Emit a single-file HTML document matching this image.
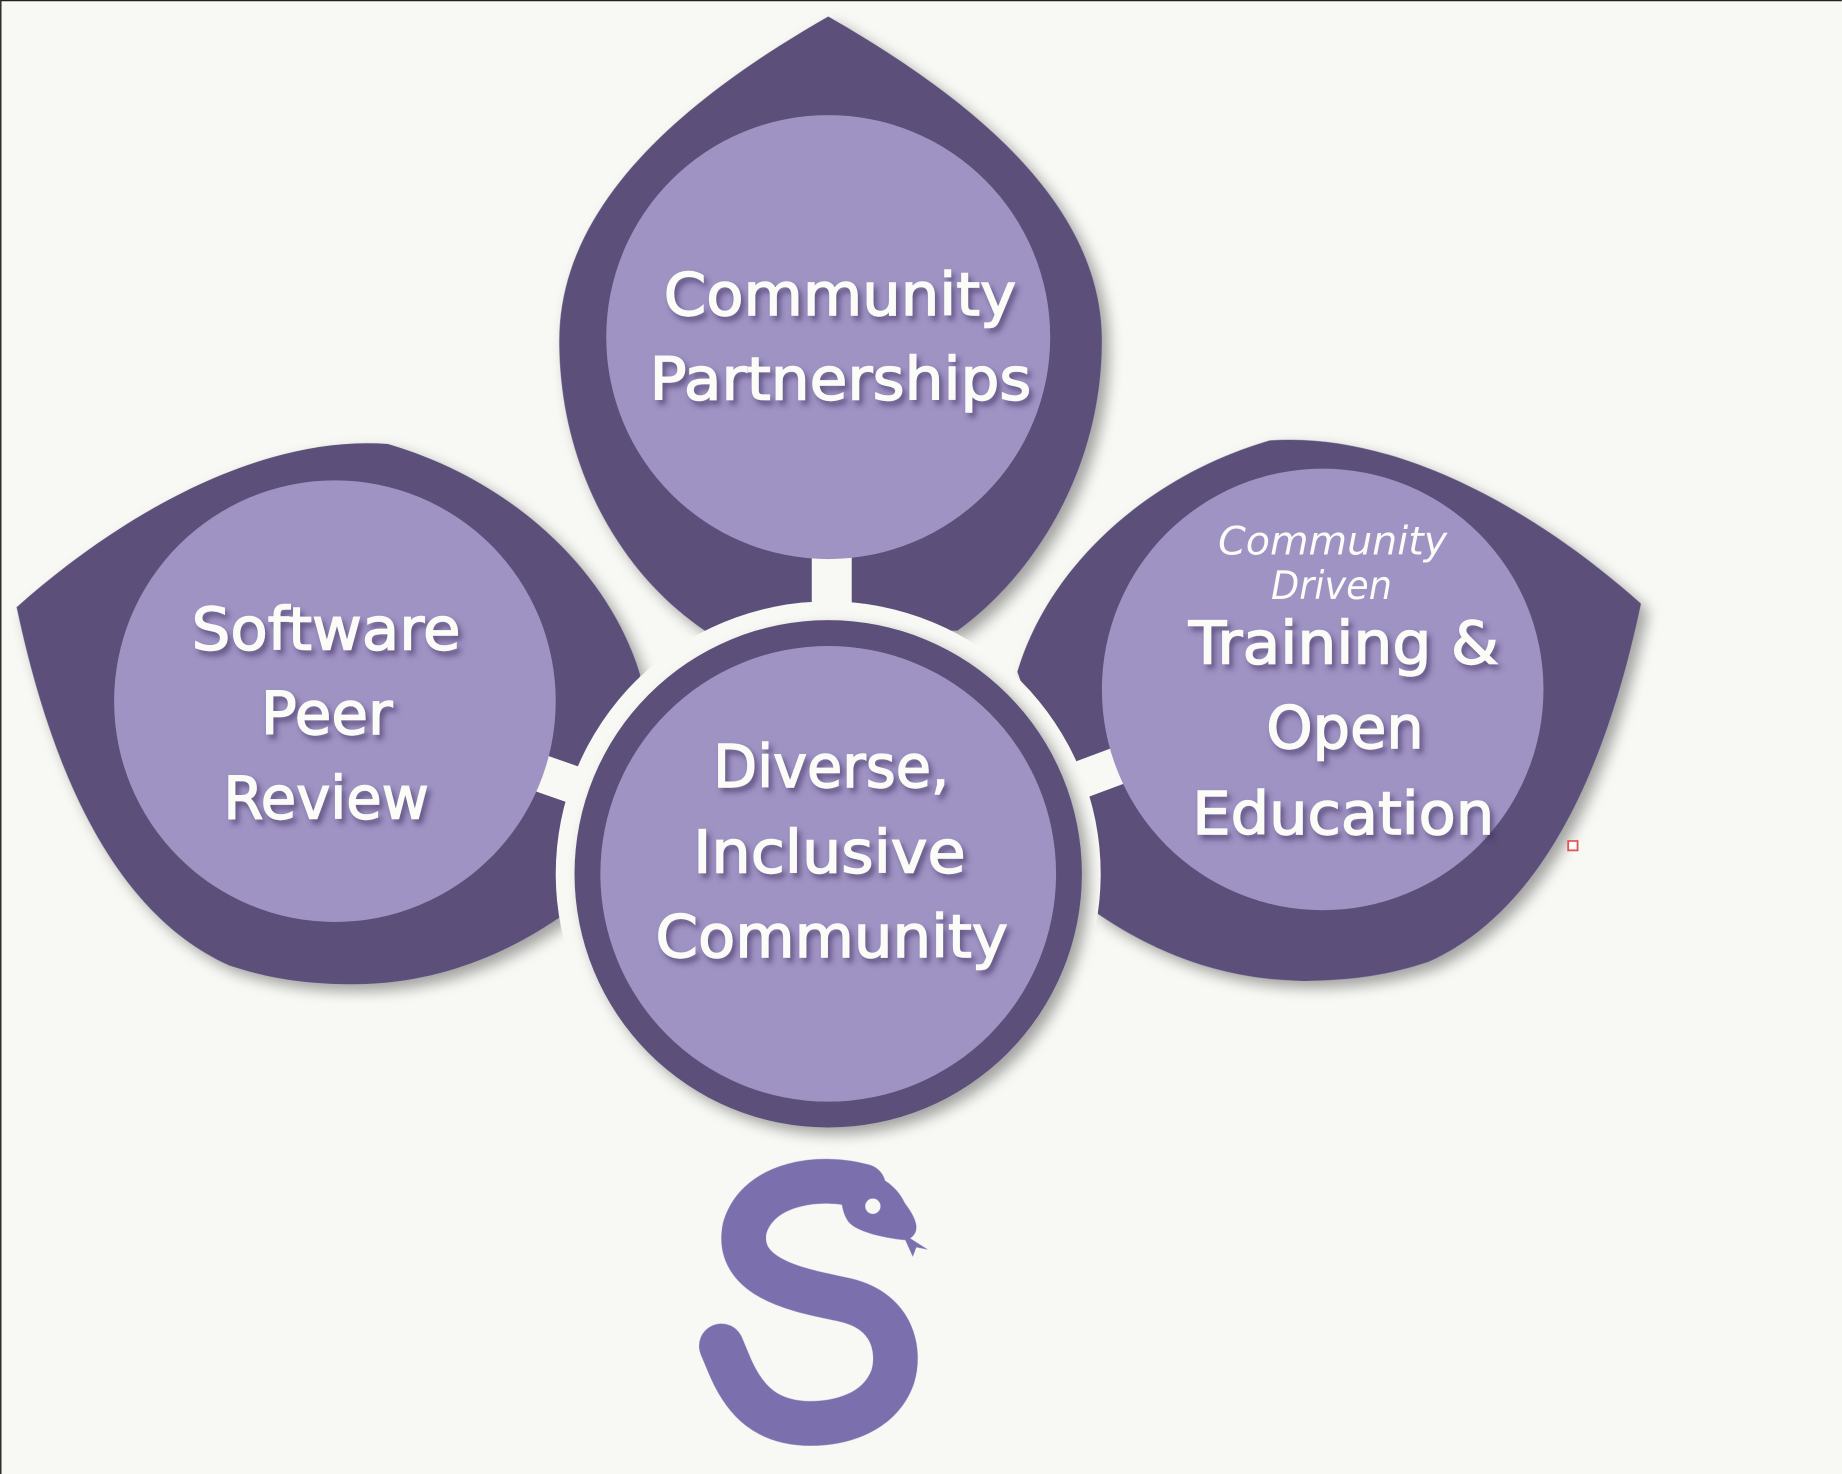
<!DOCTYPE html>
<html><head><meta charset="utf-8"><style>
html,body{margin:0;padding:0;background:#f8f9f5;}
svg{display:block;}
.t{font-family:"DejaVu Sans","Liberation Sans",sans-serif;font-weight:normal;fill:#fbfbf8;stroke:#fbfbf8;stroke-width:1.2;font-size:50px;filter:url(#ts);}
.s{font-family:"DejaVu Sans","Liberation Sans",sans-serif;font-style:italic;font-weight:normal;fill:#fbfbf8;font-size:33px;}
</style></head><body>
<svg width="1842" height="1474" viewBox="0 0 1568 1255" xmlns="http://www.w3.org/2000/svg">
<defs>
<filter id="sh" x="-20%" y="-20%" width="140%" height="140%"><feDropShadow dx="6" dy="6" stdDeviation="6" flood-color="#000" flood-opacity="0.35"/></filter>
<filter id="ts" x="-20%" y="-20%" width="140%" height="150%"><feDropShadow dx="3" dy="4" stdDeviation="2.5" flood-color="#3a2f5a" flood-opacity="0.6"/></filter>
</defs>
<rect x="0" y="0" width="1568" height="1255" fill="#f8f9f5"/>
<path d="M0.5,1255 L0.5,0.5 L1568,0.5" fill="none" stroke="#222" stroke-width="1.2"/>
<g fill="#5c507a" filter="url(#sh)">
<path d="M705,14 C820,80 938,170 938,290 C938,400 880,490 815,537 L600,537 C530,490 476,400 476,290 C476,170 590,80 705,14 Z"/>
<path d="M14,517 C100,440 220,370 330,378 C440,410 520,490 545,575 L500,700 L478,780 C420,820 360,838 300,838 C250,838 220,830 195,822 C90,775 40,640 14,517 Z"/>
<path transform="translate(1411,-3) scale(-1,1)" d="M14,517 C100,440 220,370 330,378 C440,410 520,490 545,575 L500,700 L478,780 C420,820 360,838 300,838 C250,838 220,830 195,822 C90,775 40,640 14,517 Z"/>
</g>
<g stroke="#f8f9f5" stroke-width="32">
<line x1="705" y1="744" x2="285" y2="597"/>
<line x1="705" y1="744" x2="1126" y2="587"/>
</g>
<rect x="691" y="440" width="34" height="120" fill="#f8f9f5"/>
<g fill="#9f93c4">
<circle cx="705" cy="287" r="189"/>
<circle cx="285" cy="597" r="188"/>
<circle cx="1126" cy="587" r="188"/>
</g>
<circle cx="705" cy="744" r="232" fill="#f8f9f5"/>
<circle cx="705" cy="744" r="216" fill="#5c507a" filter="url(#sh)"/>
<circle cx="705" cy="744" r="194" fill="#9f93c4"/>

<text class="t" x="565" y="268" textLength="300" lengthAdjust="spacingAndGlyphs">Community</text>
<text class="t" x="553" y="340" textLength="325" lengthAdjust="spacingAndGlyphs">Partnerships</text>
<text class="t" x="163" y="553" textLength="229" lengthAdjust="spacingAndGlyphs">Software</text>
<text class="t" x="222" y="625" textLength="112" lengthAdjust="spacingAndGlyphs">Peer</text>
<text class="t" x="190" y="697" textLength="175" lengthAdjust="spacingAndGlyphs">Review</text>
<text class="t" x="607" y="670" textLength="201" lengthAdjust="spacingAndGlyphs">Diverse,</text>
<text class="t" x="590" y="743" textLength="232" lengthAdjust="spacingAndGlyphs">Inclusive</text>
<text class="t" x="558" y="815" textLength="300" lengthAdjust="spacingAndGlyphs">Community</text>
<text class="s" x="1037" y="472" textLength="195" lengthAdjust="spacingAndGlyphs">Community</text>
<text class="s" x="1082" y="510" textLength="103" lengthAdjust="spacingAndGlyphs">Driven</text>
<text class="t" x="1012" y="565" textLength="264" lengthAdjust="spacingAndGlyphs">Training &amp;</text>
<text class="t" x="1078" y="637" textLength="134" lengthAdjust="spacingAndGlyphs">Open</text>
<text class="t" x="1015" y="710" textLength="257" lengthAdjust="spacingAndGlyphs">Education</text>

<rect x="1335" y="716" width="8" height="8" fill="#fff" stroke="#e05050" stroke-width="1.5"/>

<g fill="#7b70ad">
<path d="M735,1010 C700,1000 646,1006 634,1045 C624,1092 690,1100 720,1107 C762,1117 766,1152 760,1172 C748,1206 710,1212 690,1212 C652,1212 634,1192 622,1165 L614,1146" fill="none" stroke="#7b70ad" stroke-width="38" stroke-linecap="round"/>
<path d="M700,991 C740,993 762,1006 770,1024 C782,1040 784,1050 772,1056 C750,1054 728,1048 722,1040 C715,1030 718,1020 712,1016 Z"/>
<path d="M768,1050 L790,1064 L780,1062 L777,1070 Z"/>
</g>
<circle cx="743" cy="1027" r="6.5" fill="#f8f9f5"/>
</svg>
</body></html>
